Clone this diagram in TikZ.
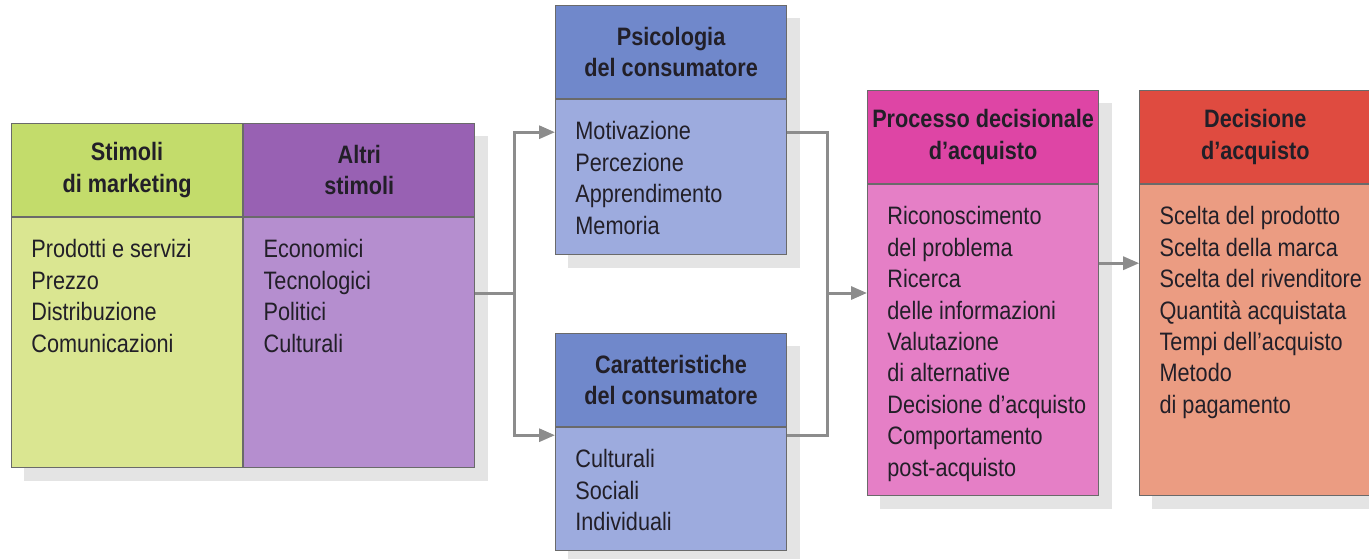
\documentclass[tikz,border=0pt]{standalone}
\usepackage{fontspec}
\setmainfont{Liberation Sans}[FakeStretch=0.86]
\usepackage{tikz}
\usetikzlibrary{positioning,backgrounds,arrows.meta}
\definecolor{boxline}{HTML}{6A6A6A}
\definecolor{shadowgray}{HTML}{E4E4E4}
\definecolor{wire}{HTML}{8C8C8C}
\definecolor{ink}{HTML}{221F28}
\definecolor{greenhead}{HTML}{C3DC6B}
\definecolor{greenbody}{HTML}{DAE691}
\definecolor{purplehead}{HTML}{9861B3}
\definecolor{purplebody}{HTML}{B58ECF}
\definecolor{bluehead}{HTML}{7088CB}
\definecolor{bluebody}{HTML}{9DABDE}
\definecolor{pinkhead}{HTML}{DE45A5}
\definecolor{pinkbody}{HTML}{E57FC6}
\definecolor{redhead}{HTML}{DF4B40}
\definecolor{redbody}{HTML}{EB9C82}

\begin{document}
\begin{tikzpicture}[x=0.5pt,y=-0.5pt,
  headbox/.style={draw=boxline,line width=0.6pt,fill=#1,
      anchor=north west,minimum width=115.5pt,minimum height=46.5pt,
      inner xsep=1pt,align=center,text=ink,
      font=\fontsize{12.6pt}{15.8pt}\selectfont\bfseries},
  bodybox/.style={draw=boxline,line width=0.6pt,fill=#1,
      minimum width=115.5pt},
  mylist/.style={inner sep=0pt,align=left,text=ink,
      font=\fontsize{12.6pt}{15.7pt}\selectfont},
  conn/.style={draw=wire,line width=1.5pt},
  arr/.style={conn,-{Triangle[length=8pt,width=6.5pt]}}]
  \useasboundingbox (0,0) rectangle (1369,558);

  % stimuli
  \node[headbox=greenhead] (stimH) at (11,123) {Stimoli\\di marketing};
  \node[bodybox=greenbody,minimum height=125pt,below=0pt of stimH] (stimB) {};
  \node[headbox=purplehead,right=0pt of stimH] (altH) {Altri\\stimoli};
  \node[bodybox=purplebody,minimum height=125pt,below=0pt of altH] (altB) {};
  \node[mylist,below right=11pt and 10pt of stimB.north west] (stimL)
    {Prodotti e servizi\\Prezzo\\Distribuzione\\Comunicazioni};
  \node[mylist,below right=11pt and 10pt of altB.north west] (altL)
    {Economici\\Tecnologici\\Politici\\Culturali};

  % buyer
  \node[headbox=bluehead] (psiH) at (555,5) {Psicologia\\del consumatore};
  \node[bodybox=bluebody,minimum height=77.5pt,below=0pt of psiH] (psiB) {};
  \node[headbox=bluehead] (carH) at (555,333) {Caratteristiche\\del consumatore};
  \node[bodybox=bluebody,minimum height=61.5pt,below=0pt of carH] (carB) {};
  \node[mylist,below right=11pt and 10pt of psiB.north west] (psiL)
    {Motivazione\\Percezione\\Apprendimento\\Memoria};
  \node[mylist,below right=11pt and 10pt of carB.north west] (carL)
    {Culturali\\Sociali\\Individuali};

  % decision
  \node[headbox=pinkhead] (procH) at (867,90) {Processo decisionale\\d’acquisto};
  \node[bodybox=pinkbody,minimum height=155.5pt,below=0pt of procH] (procB) {};
  \node[headbox=redhead,right=20pt of procH] (decH) {Decisione\\d’acquisto};
  \node[bodybox=redbody,minimum height=155.5pt,below=0pt of decH] (decB) {};
  \node[mylist,below right=11pt and 10pt of procB.north west] (procL)
    {Riconoscimento\\del problema\\Ricerca\\delle informazioni\\Valutazione\\
     di alternative\\Decisione d’acquisto\\Comportamento\\post-acquisto};
  \node[mylist,below right=11pt and 10pt of decB.north west] (decL)
    {Scelta del prodotto\\Scelta della marca\\Scelta del rivenditore\\
     Quantità acquistata\\Tempi dell’acquisto\\Metodo\\di pagamento};

  % shadows
  \begin{scope}[on background layer]
    \foreach \top/\bot in {stimH/altB,psiH/psiB,carH/carB,procH/procB,decH/decB}
      \fill[shadowgray] ([shift={(6.5pt,-6.5pt)}]\top.north west)
        rectangle ([shift={(6.5pt,-6.5pt)}]\bot.south east);
  \end{scope}

  % connectors
  \coordinate (split) at (514,293);
  \coordinate (join) at (827,293);
  \draw[conn] (altB.east |- split) -- (split);
  \draw[arr] (split) |- ([yshift=-16.5pt]psiB.north west);
  \draw[arr] (split) |- ([yshift=-4pt]carB.north west);
  \draw[conn] ([yshift=-16.5pt]psiB.north east) -| (join);
  \draw[conn] ([yshift=-4pt]carB.north east) -| (join);
  \draw[arr] (join) -- (procB.west |- join);
  \draw[arr] ([yshift=-39.5pt]procB.north east) -- ([yshift=-39.5pt]decB.north west);
\end{tikzpicture}
\end{document}
